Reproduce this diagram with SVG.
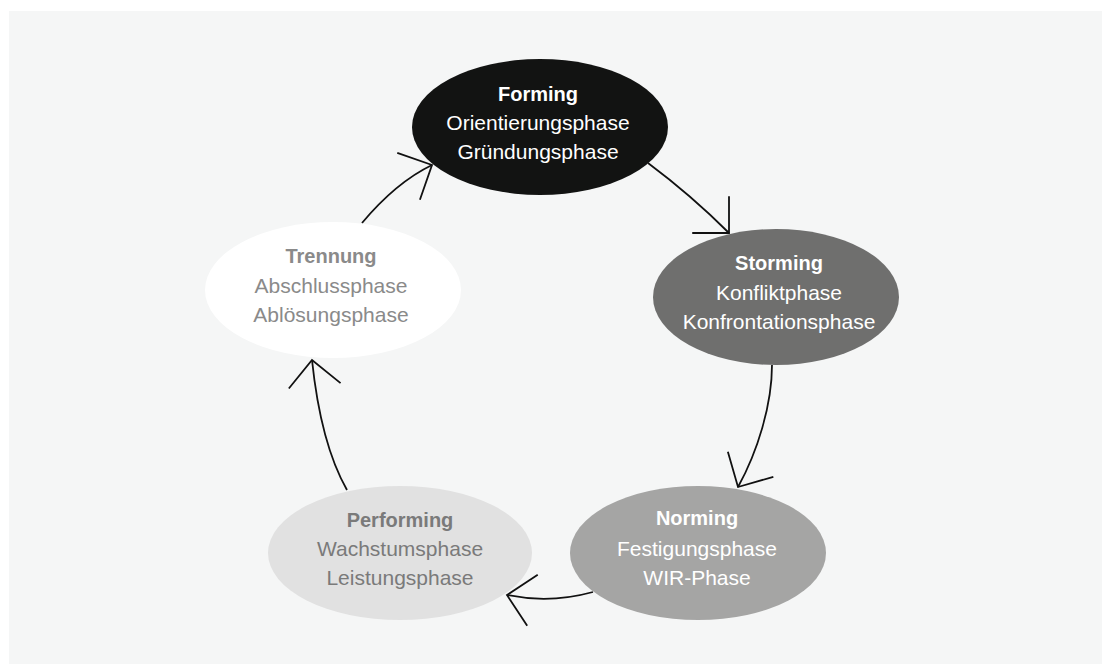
<svg xmlns="http://www.w3.org/2000/svg" width="1102" height="664" viewBox="0 0 1102 664">
<style>
  text { font-family: "Liberation Sans", Arial, sans-serif; font-size: 21px; text-anchor: middle; }
  .t { font-weight: bold; font-size: 20px; }
  .w { fill: #ffffff; }
  .g1 { fill: #7a7a7a; }
  .g2 { fill: #8a8a8a; }
  .conn { fill: none; stroke: #111111; stroke-width: 1.8; marker-end: url(#arr); }
</style>
<defs>
  <marker id="arr" markerUnits="userSpaceOnUse" viewBox="-30 -30 32 60" markerWidth="32" markerHeight="60" refX="0" refY="0" orient="auto" overflow="visible">
    <path d="M-26,-26 L0,0 L-26,26" fill="none" stroke="#111111" stroke-width="1.8"/>
  </marker>
</defs>
<rect x="0" y="0" width="1102" height="664" fill="#ffffff"/>
<rect x="9" y="11" width="1093" height="653" fill="#f5f6f6"/>

<g id="connectors">
  <path class="conn" d="M648,163 Q691.5,195.5 729,233"/>
  <path class="conn" d="M772,365 C772,405 757.4,452 738,487"/>
  <path class="conn" d="M593,592 Q550,603.9 507,595"/>
  <path class="conn" d="M347,490 C329.7,459.6 317.7,414.7 312,360"/>
  <path class="conn" d="M362,223 Q396,182.4 432,165"/>
</g>

<g id="forming">
  <ellipse cx="540" cy="127" rx="128" ry="68" fill="#121312"/>
  <text class="t w" x="538" y="101">Forming</text>
  <text class="w" x="538" y="130">Orientierungsphase</text>
  <text class="w" x="538" y="159">Gründungsphase</text>
</g>

<g id="storming">
  <ellipse cx="776" cy="297" rx="123" ry="68" fill="#6f6f6e"/>
  <text class="t w" x="779" y="270">Storming</text>
  <text class="w" x="779" y="300">Konfliktphase</text>
  <text class="w" x="779" y="329">Konfrontationsphase</text>
</g>

<g id="norming">
  <ellipse cx="698" cy="553" rx="128" ry="67" fill="#a5a5a4"/>
  <text class="t w" x="697" y="525">Norming</text>
  <text class="w" x="697" y="556">Festigungsphase</text>
  <text class="w" x="697" y="585">WIR-Phase</text>
</g>

<g id="performing">
  <ellipse cx="400" cy="553" rx="132" ry="67" fill="#e1e1e1"/>
  <text class="t g1" x="400" y="527">Performing</text>
  <text class="g1" x="400" y="556">Wachstumsphase</text>
  <text class="g1" x="400" y="585">Leistungsphase</text>
</g>

<g id="trennung">
  <ellipse cx="333" cy="290" rx="128" ry="68" fill="#ffffff"/>
  <text class="t g2" x="331" y="263">Trennung</text>
  <text class="g2" x="331" y="293">Abschlussphase</text>
  <text class="g2" x="331" y="322">Ablösungsphase</text>
</g>
</svg>
